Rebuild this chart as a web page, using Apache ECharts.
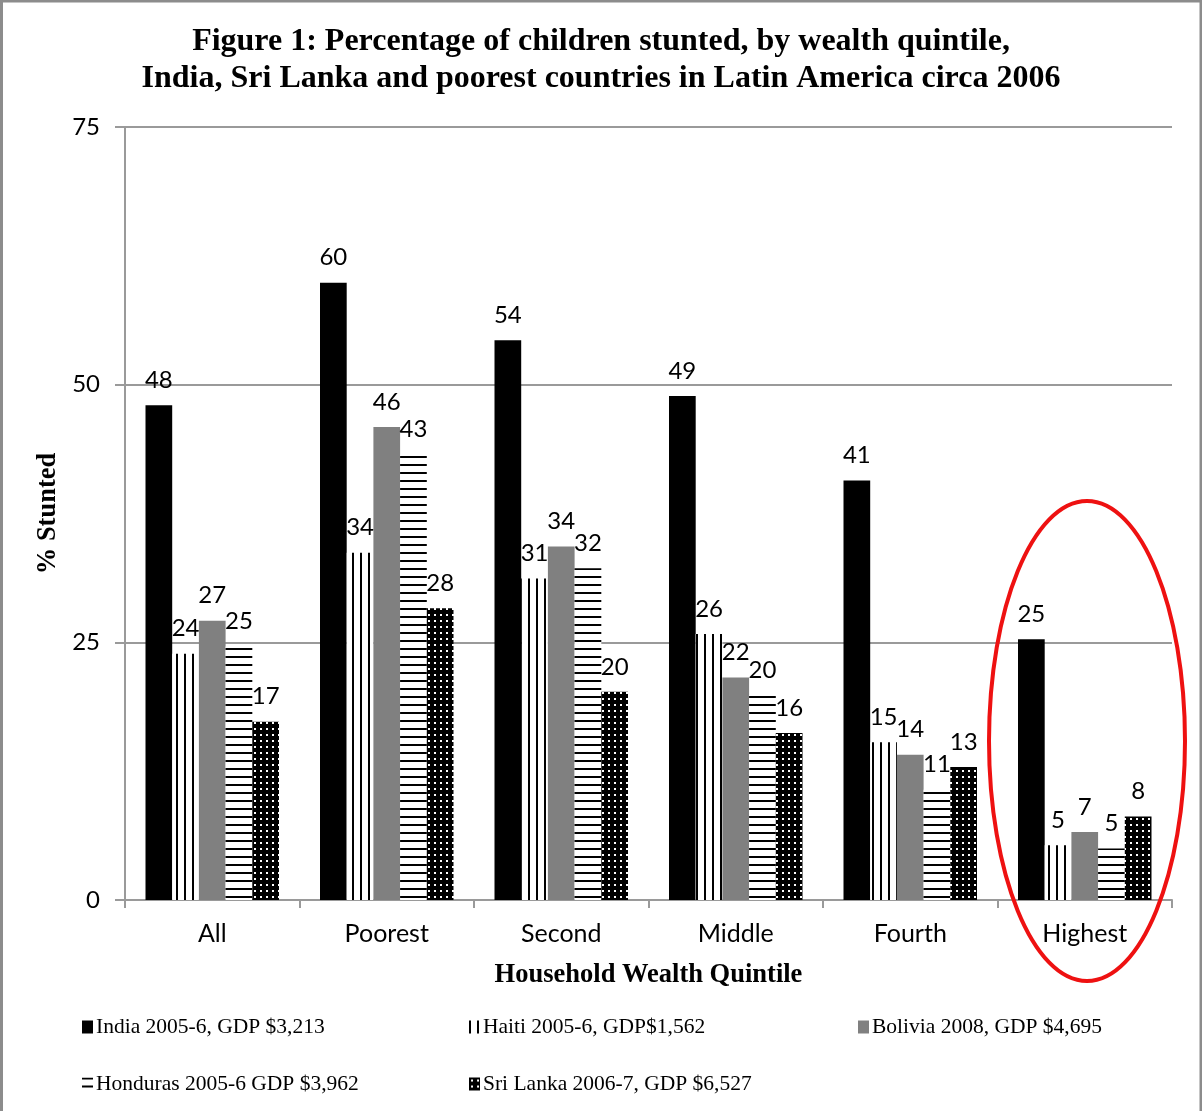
<!DOCTYPE html>
<html>
<head>
<meta charset="utf-8">
<script src="https://cdn.jsdelivr.net/npm/echarts@6/dist/echarts.min.js"></script>
<style>
  html, body { margin: 0; padding: 0; background: #fff; }
  #chart { width: 1202px; height: 1111px; }
</style>
</head>
<body>
<div id="chart"></div>
<script>
// data
const categories = ['All', 'Poorest', 'Second', 'Middle', 'Fourth', 'Highest'];
const india    = [48.0, 59.9, 54.3, 48.9, 40.7, 25.3];
const haiti    = [23.9, 33.7, 31.2, 25.8, 15.3, 5.3];
const bolivia  = [27.1, 45.9, 34.3, 21.6, 14.1, 6.6];
const honduras = [24.6, 43.2, 32.2, 19.9, 10.7, 5.0];
const sriLanka = [17.3, 28.3, 20.2, 16.2, 12.9, 8.1];
const seriesNames = [
  'India 2005-6, GDP $3,213',
  'Haiti 2005-6, GDP$1,562',
  'Bolivia 2008, GDP $4,695',
  'Honduras 2005-6 GDP $3,962',
  'Sri Lanka 2006-7, GDP $6,527'
];
const yTicks = [0, 25, 50, 75];

const serif = '"Liberation Serif", "Times New Roman", serif';
const sans = 'Lato, "Open Sans", sans-serif';
const axisGrey = '#9a9a9a';

function makePattern(w, h, bg, fg, draw) {
  const c = document.createElement('canvas');
  c.width = w; c.height = h;
  const ctx = c.getContext('2d');
  ctx.fillStyle = bg;
  ctx.fillRect(0, 0, w, h);
  ctx.fillStyle = fg;
  draw(ctx);
  return { image: c, repeat: 'repeat' };
}

const vertLines = makePattern(8, 8, '#fff', '#000', ctx => ctx.fillRect(0, 0, 2, 8));
const horLines = makePattern(8, 8, '#fff', '#000', ctx => ctx.fillRect(0, 0, 8, 2));
const dots = makePattern(6, 6, '#000', '#fff', ctx => ctx.fillRect(2, 2, 2, 2));

const fills = ['#000000', vertLines, '#808080', horLines, dots];
const values = [india, haiti, bolivia, honduras, sriLanka];

const chart = echarts.init(document.getElementById('chart'));

const series = values.map((v, i) => ({
  name: seriesNames[i],
  type: 'bar',
  data: v,
  barGap: '0%',
  barCategoryGap: '23.5%',
  itemStyle: { color: fills[i] },
  label: {
    show: true,
    position: 'top',
    distance: 13,
    color: '#000',
    fontFamily: sans,
    fontSize: 24,
    formatter: p => Math.round(p.value)
  }
}));

// legend laid out in three columns, two rows
const legendPos = [[82, 1016], [469, 1016], [858, 1016], [82, 1073], [469, 1073]];
const legends = seriesNames.map((n, i) => ({
  data: [n],
  left: legendPos[i][0],
  top: legendPos[i][1],
  icon: 'rect',
  itemWidth: 11,
  itemHeight: 13,
  padding: 0,
  selectedMode: false,
  textStyle: { fontFamily: serif, fontSize: 21.5, color: '#000', padding: [0, 0, 0, -2] }
}));

const option = {
  animation: false,
  backgroundColor: '#fff',
  title: {
    text: 'Figure 1: Percentage of children stunted, by wealth quintile,\nIndia, Sri Lanka and poorest countries in Latin America circa 2006',
    left: 'center',
    top: 18,
    textStyle: {
      fontFamily: serif,
      fontWeight: 'bold',
      fontSize: 32,
      lineHeight: 37,
      color: '#000'
    }
  },
  legend: legends,
  grid: { left: 125, right: 30, top: 127, bottom: 211, containLabel: false },
  xAxis: {
    type: 'category',
    data: categories,
    name: 'Household Wealth Quintile',
    nameLocation: 'middle',
    nameGap: 62,
    nameTextStyle: { fontFamily: serif, fontWeight: 'bold', fontSize: 26.5, color: '#000' },
    axisLine: { lineStyle: { color: axisGrey, width: 2 } },
    axisTick: { show: true, length: 8, lineStyle: { color: axisGrey, width: 2 } },
    axisLabel: { color: '#000', fontFamily: sans, fontSize: 25, margin: 21 }
  },
  yAxis: {
    type: 'value',
    min: yTicks[0],
    max: yTicks[yTicks.length - 1],
    interval: 25,
    name: '% Stunted',
    nameLocation: 'middle',
    nameGap: 62,
    nameRotate: 90,
    nameTextStyle: { fontFamily: serif, fontWeight: 'bold', fontSize: 26.5, color: '#000' },
    axisLine: { show: true, lineStyle: { color: axisGrey, width: 2 } },
    axisTick: { show: true, length: 10, lineStyle: { color: axisGrey, width: 2 } },
    axisLabel: { color: '#000', fontFamily: sans, fontSize: 24, margin: 25 },
    splitLine: { lineStyle: { color: axisGrey, width: 2 } }
  },
  series: series,
  graphic: [
    {
      type: 'polyline',
      shape: { points: [[1.5, 1111], [1.5, 1], [1201, 1], [1201, 1111]] },
      style: { stroke: '#8c8c8c', lineWidth: 3, fill: null },
      silent: true
    },
    {
      type: 'ellipse',
      shape: { cx: 1087, cy: 741, rx: 98, ry: 240 },
      style: { stroke: '#ee1111', lineWidth: 4, fill: null },
      silent: true,
      z: 100
    }
  ]
};

chart.setOption(option);
</script>
</body>
</html>
